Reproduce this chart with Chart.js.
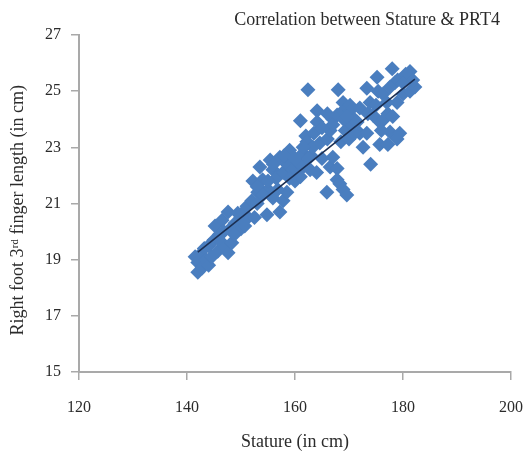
<!DOCTYPE html>
<html>
<head>
<meta charset="utf-8">
<title>Correlation between Stature &amp; PRT4</title>
<script src="https://cdn.jsdelivr.net/npm/chart.js@4.4.1/dist/chart.umd.min.js"></script>
<style>
    html, body { margin: 0; padding: 0; background: #ffffff; }
    #wrap { width: 526px; height: 458px; }
</style>
</head>
<body>
<div id="wrap"><canvas id="statureChart" width="526" height="458"></canvas></div>
<script>
// --- Data ---
const statureCm = [
    141.5, 142, 142, 142.5, 142.8, 143.2, 143.5, 144, 144, 144.6, 145, 145.2, 145.7, 146, 146.5, 146.5,
    147, 147.6, 147.6, 148, 148.3, 148.9, 149.4, 150, 150.4, 150.7,
    151.1, 151.3, 152, 152.2, 152.5, 153, 153.1, 153.5, 154, 154.8, 155, 155.4, 155.9, 155.9, 156.5,
    157.2, 157.2, 157.8, 157.8, 158.5, 158.5,
    159, 159.6, 160, 160.4, 161, 161, 161.5, 161.5, 162, 162.2, 162.4, 162.8, 163, 163.3, 163.5, 164,
    164.1, 164.1, 164.6, 165,
    165.9, 166, 166.5, 166.5, 167, 167, 167, 167.8, 167.8, 167.8, 168, 168.3, 168.5, 168.9, 168.9, 168.9,
    169.3, 169.6, 170.2, 170.2, 170.5, 171, 171.5, 172, 172,
    172.6, 173.3, 173.3, 173.5, 173.9, 174, 174.4, 175, 175.2, 175.4, 175.7, 175.7, 176.3, 176.5, 177.2,
    177.2, 177.6, 177.6, 178, 178.1, 178.5, 178.9, 178.9, 179, 179.4, 180, 180.5, 181.3, 181.3, 182.2, 181.8,
    // extra points filling the dense bands
    146.8, 148.8, 150, 153, 154, 155, 156, 156.8, 158, 159, 160, 161.5, 162.5, 165, 166, 169, 169.5,
    170, 171, 176, 177, 180
];
const fingerCm = [
    19.1, 18.9, 18.55, 19.2, 18.7, 19.4, 19.0, 18.8, 19.5, 19.1, 19.7, 20.2, 19.3, 19.9, 20.4, 19.6,
    19.45, 20.7, 19.25, 20.1, 19.6, 20.3, 20.65, 20.1, 20.7, 20.2,
    20.9, 20.5, 21.1, 21.8, 20.5, 21.0, 21.4, 22.3, 21.85, 20.6, 21.5, 22.55, 22.2, 21.2, 21.9,
    22.65, 20.7, 22.1, 21.1, 21.4, 22.4,
    22.9, 22.2, 21.8, 22.5, 21.95, 23.95, 22.8, 22.3, 23.4, 23.2, 25.05, 22.2, 22.7, 23.0, 23.5, 22.1,
    24.3, 23.9, 23.15, 22.6,
    21.4, 23.3, 23.6, 22.3, 24.0, 22.65, 23.8, 24.15, 22.25, 21.85, 25.05, 21.7, 23.2, 24.6, 24.3, 21.5,
    23.6, 21.3, 24.5, 24.3, 23.8, 24.0, 23.9, 24.4, 23.5,
    23.0, 25.1, 23.5, 24.2, 24.6, 22.4, 24.15, 24.5, 25.5, 25.0, 23.9, 23.1, 24.9, 24.0, 24.2,
    23.1, 23.55, 25.15, 25.8, 24.1, 25.3, 24.6, 23.3, 25.4, 23.5, 24.9, 25.6, 25.7, 25.0, 25.15, 25.4,
    20.0, 19.9, 20.5, 21.6, 21.3, 21.8, 22.4, 21.5, 22.7, 21.9, 22.6, 23.0, 22.6, 23.7, 24.2, 24.0, 24.1,
    23.3, 23.5, 23.6, 24.6, 25.3
];
// Trend line end points
const trendX = [142, 182.2];
const trendY = [19.27, 25.43];

const xTicks = [120, 140, 160, 180, 200];
const yTicks = [15, 17, 19, 21, 23, 25, 27];

const chartTitle = 'Correlation between Stature & PRT4';
const xTitle = 'Stature (in cm)';
const yTitle = 'Right foot 3\u02B3\u1D48 finger length (in cm)   ';

// --- Styling ---
const serif = "'Liberation Serif', 'DejaVu Serif', serif";
const axisGray = '#a9a9a9';
const textColor = '#2b2b2b';

const points = statureCm.map((x, i) => ({ x: x, y: fingerCm[i] }));
const trend = trendX.map((x, i) => ({ x: x, y: trendY[i] }));

// Title drawn over the top right, like the original figure
const topTitle = {
    id: 'topTitle',
    afterDraw(chart) {
        const ctx = chart.ctx;
        ctx.save();
        ctx.font = '18px ' + serif;
        ctx.fillStyle = textColor;
        ctx.textAlign = 'right';
        ctx.textBaseline = 'alphabetic';
        ctx.fillText(chartTitle, 500, 25);
        ctx.restore();
    }
};

new Chart(document.getElementById('statureChart'), {
    type: 'scatter',
    data: {
        datasets: [
            {
                type: 'line',
                label: 'Trend',
                data: trend,
                borderColor: '#1c2f52',
                borderWidth: 1.6,
                pointRadius: 0,
                fill: false,
                order: 0
            },
            {
                label: 'PRT4',
                data: points,
                pointStyle: 'rectRot',
                pointRadius: 7.5,
                backgroundColor: '#4a7ebf',
                borderColor: '#4a7ebf',
                borderWidth: 0,
                order: 1
            }
        ]
    },
    options: {
        responsive: false,
        animation: false,
        layout: { padding: { top: 35, right: 15, bottom: 5, left: 0 } },
        plugins: {
            legend: { display: false },
            tooltip: { enabled: false },
            title: { display: false }
        },
        scales: {
            x: {
                type: 'linear',
                min: 120,
                max: 200,
                afterBuildTicks: (scale) => { scale.ticks = xTicks.map(v => ({ value: v })); },
                afterFit: (scale) => {
                    scale.height = 81;
                    scale.paddingLeft = 0;
                    scale.paddingRight = 0;
                },
                grid: { drawOnChartArea: false, drawTicks: true, tickLength: 8, color: axisGray, lineWidth: 1.5 },
                border: { color: axisGray, width: 2 },
                ticks: { color: textColor, font: { family: serif, size: 16 }, padding: 18 },
                title: {
                    display: true,
                    text: xTitle,
                    color: textColor,
                    font: { family: serif, size: 18 },
                    padding: { top: 0, bottom: 0 }
                }
            },
            y: {
                type: 'linear',
                min: 15,
                max: 27,
                afterBuildTicks: (scale) => { scale.ticks = yTicks.map(v => ({ value: v })); },
                afterFit: (scale) => {
                    scale.width = 79;
                    scale.paddingTop = 0;
                    scale.paddingBottom = 0;
                },
                grid: { drawOnChartArea: false, drawTicks: true, tickLength: 8, color: axisGray, lineWidth: 1.5 },
                border: { color: axisGray, width: 2 },
                ticks: { color: textColor, font: { family: serif, size: 16 }, padding: 10 },
                title: {
                    display: true,
                    text: yTitle,
                    color: textColor,
                    font: { family: serif, size: 18 },
                    padding: { top: 7, bottom: 0 }
                }
            }
        }
    },
    plugins: [topTitle]
});
</script>
</body>
</html>
